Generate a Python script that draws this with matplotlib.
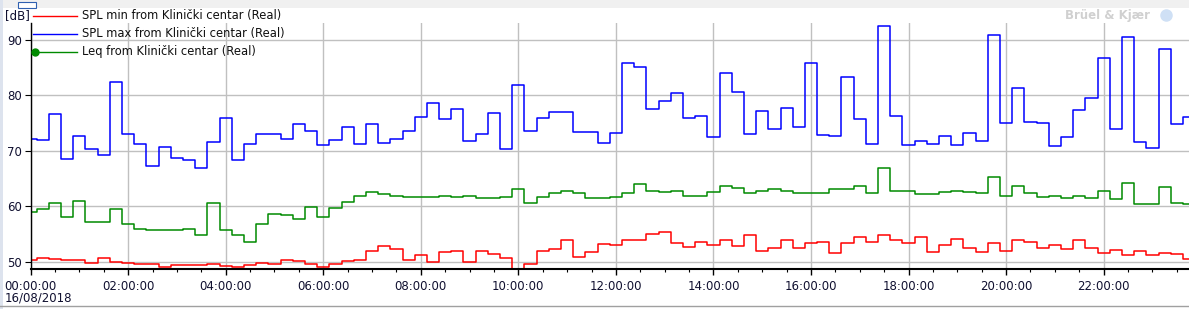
import numpy as np
import pandas as pd
import matplotlib
matplotlib.use("Agg")
import matplotlib.pyplot as plt
import matplotlib.dates as mdates
from matplotlib.lines import Line2D
from matplotlib.patches import Rectangle

# 15 minute values, 16/08/2018
times = pd.date_range("2018-08-16 00:00", periods=96, freq="15min")

spl_min = [50.3, 50.7, 50.5, 50.3, 50.3, 49.8, 50.7, 49.9, 49.8, 49.6,
           49.6, 49.0, 49.4, 49.4, 49.4, 49.6, 49.2, 49.0, 49.4, 49.8,
           49.6, 50.3, 50.1, 49.6, 49.0, 49.6, 50.1, 50.3, 51.9, 52.8,
           52.3, 50.3, 51.2, 49.9, 51.8, 51.9, 49.9, 51.9, 51.4, 50.7,
           47.5, 49.6, 51.9, 52.3, 53.8, 50.9, 51.8, 53.2, 53.0, 53.9,
           53.8, 55.0, 55.4, 53.4, 52.7, 53.6, 53.0, 53.8, 52.8, 54.8,
           51.9, 52.5, 53.8, 52.5, 53.4, 53.6, 51.6, 53.4, 54.5, 53.6,
           54.7, 53.8, 53.4, 54.5, 51.8, 53.0, 54.1, 52.5, 51.8, 53.4,
           51.9, 53.8, 53.6, 52.5, 53.0, 52.3, 53.8, 52.5, 51.6, 52.1,
           51.2, 51.9, 51.2, 51.6, 51.4, 50.5]

spl_max = [72.0, 71.9, 76.6, 68.4, 72.6, 70.2, 69.2, 82.4, 73.0, 71.1,
           67.3, 70.6, 68.7, 68.3, 66.8, 71.5, 75.9, 68.3, 71.1, 73.0,
           73.0, 72.0, 74.8, 73.5, 71.0, 71.9, 74.2, 71.2, 74.8, 71.3,
           72.0, 73.5, 76.0, 78.6, 75.7, 77.5, 71.7, 73.0, 76.8, 70.2,
           81.9, 73.5, 75.9, 77.0, 77.0, 73.3, 73.3, 71.3, 73.1, 85.8,
           85.1, 77.5, 78.9, 80.4, 75.9, 76.2, 72.4, 84.0, 80.6, 73.0,
           77.1, 73.9, 77.7, 74.2, 85.8, 72.8, 72.6, 83.3, 75.7, 71.2,
           92.5, 76.2, 71.0, 71.7, 71.2, 72.6, 71.0, 73.1, 71.7, 90.9,
           75.0, 81.3, 75.1, 75.0, 70.8, 72.4, 77.3, 79.5, 86.7, 73.9,
           90.5, 71.5, 70.4, 88.4, 74.8, 76.0]

leq = [58.9, 59.4, 60.5, 58.1, 61.0, 57.2, 57.2, 59.4, 56.7, 55.9,
       55.6, 55.6, 55.6, 55.9, 54.8, 60.5, 55.6, 54.7, 53.6, 56.7,
       58.6, 58.3, 57.6, 59.9, 58.1, 59.7, 60.8, 61.9, 62.5, 62.2,
       61.9, 61.7, 61.7, 61.7, 61.9, 61.7, 61.9, 61.4, 61.5, 61.7,
       63.0, 60.5, 61.7, 62.3, 62.8, 62.3, 61.4, 61.5, 61.7, 62.3,
       63.9, 62.8, 62.6, 62.8, 61.9, 61.9, 62.6, 63.7, 63.2, 62.3,
       62.8, 63.0, 62.8, 62.3, 62.3, 62.3, 63.0, 63.0, 63.7, 62.3,
       66.8, 62.8, 62.8, 62.1, 62.1, 62.6, 62.8, 62.6, 62.3, 65.2,
       61.9, 63.7, 62.3, 61.7, 61.9, 61.4, 61.9, 61.4, 62.8, 61.2,
       64.1, 60.3, 60.3, 63.5, 60.6, 60.3]

series = [
    ("SPL min from Klinički centar (Real)", spl_min, "#ff0000"),
    ("SPL max from Klinički centar (Real)", spl_max, "#0000ff"),
    ("Leq from Klinički centar (Real)", leq, "#008a00"),
]

W, H = 1189, 309
fig = plt.figure(figsize=(W / 100, H / 100), dpi=100)

def fx(px):
    return px / W

def fy(py):
    return 1 - py / H

# window chrome
fig.add_artist(Rectangle((0, fy(8)), 1, 8 / H, transform=fig.transFigure,
                         facecolor="#f0f0f0", edgecolor="none"))
fig.add_artist(Rectangle((fx(18), fy(8)), 18 / W, 6 / H, transform=fig.transFigure,
                         facecolor="white", edgecolor="#3060b0", lw=0.8))
fig.add_artist(Rectangle((0, 0), 3 / W, 1, transform=fig.transFigure,
                         facecolor="#dde3ee", edgecolor="none"))
fig.add_artist(Line2D([0, 1], [fy(306), fy(306)], transform=fig.transFigure,
                      color="#a0a0a0", lw=1))

ax = fig.add_axes([fx(30.6), fy(269.3), 1 - fx(30.6), (269.3 - 23) / H])

for name, vals, col in series:
    ax.step(times, vals, where="mid", color=col, lw=1.1)

ax.set_ylim(48.6, 93.0)
ax.set_xlim(times[0], times[-1])
ax.set_yticks([50, 60, 70, 80, 90])

ax.xaxis.set_major_locator(mdates.HourLocator(byhour=range(0, 24, 2)))
ax.xaxis.set_minor_locator(mdates.MinuteLocator(byminute=[0, 30]))
ax.xaxis.set_major_formatter(mdates.DateFormatter("%H:%M:%S"))

ax.grid(True, which="major", color="#c0c0c0", lw=1)
ax.set_axisbelow(True)
for s in ["top", "right"]:
    ax.spines[s].set_visible(False)
ax.spines["left"].set_linewidth(1.0)
ax.spines["bottom"].set_linewidth(1.5)
ax.tick_params(axis="y", length=4, width=0.8, pad=2, labelsize=8.5, labelcolor="#101030")
ax.tick_params(axis="x", which="major", length=4, width=1, pad=4, labelsize=8.5,
               labelcolor="#101030")
ax.tick_params(axis="x", which="minor", length=2.5, width=0.8)

# legend drawn like the original control
rows = [16, 34, 52]
for (name, vals, col), yy in zip(series, rows):
    fig.add_artist(Line2D([fx(33), fx(77)], [fy(yy), fy(yy)], transform=fig.transFigure,
                          color=col, lw=1.0))
    fig.text(fx(82), fy(yy), name, fontsize=8.3, va="center", ha="left", color="#101010")
fig.add_artist(Line2D([fx(35)], [fy(52)], transform=fig.transFigure, color="#008a00",
                      marker="o", markersize=5))

fig.text(fx(5), fy(16), "[dB]", fontsize=8.5, va="center", ha="left", color="#101030")
fig.text(fx(5), fy(298), "16/08/2018", fontsize=8.5, va="center", ha="left", color="#101030")
fig.text(fx(1150), fy(15), "Brüel & Kjær", fontsize=8.5, fontweight="bold", va="center",
         ha="right", color="#d0d0d0")
fig.add_artist(Line2D([fx(1166)], [fy(15)], transform=fig.transFigure, color="#cfe0f5",
                      marker="o", markersize=8, markeredgecolor="#cfe0f5"))

fig.savefig("out.png", dpi=100)
